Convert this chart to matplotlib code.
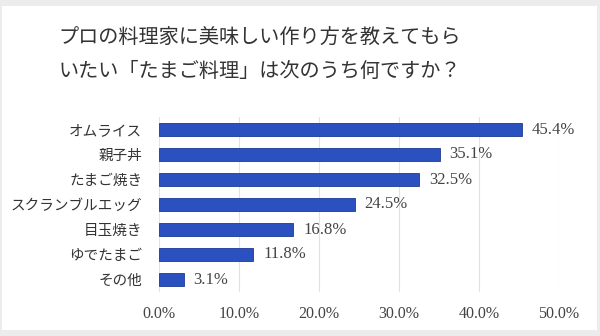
import matplotlib.pyplot as plt
from matplotlib.patches import Rectangle

categories = ['オムライス', '親子丼', 'たまご焼き', 'スクランブルエッグ', '目玉焼き', 'ゆでたまご', 'その他']
values = [45.4, 35.1, 32.5, 24.5, 16.8, 11.8, 3.1]
xticks = [0, 10, 20, 30, 40, 50]
title = 'プロの料理家に美味しい作り方を教えてもら\nいたい「たまご料理」は次のうち何ですか？'

jp = ['Noto Sans CJK JP', 'DejaVu Sans']
num = ['Liberation Serif', 'DejaVu Serif']

fig = plt.figure(figsize=(6, 3.36), dpi=100, facecolor='#ececec')
# white panel inside light gray frame
fig.patches.append(Rectangle((2/600, 6/336), 595/600, 324/336, transform=fig.transFigure,
                             facecolor='white', edgecolor='none', zorder=-1))

fig.text(260/600, 1 - 55/336, title, ha='center', va='center', fontsize=14.5,
         family=jp, color='#333333', linespacing=1.75)

ax = fig.add_axes([159/600, 44/336, 400/600, 175/336], zorder=2)
ax.set_facecolor('none')
y = list(range(len(categories)))
ax.barh(y, values, height=0.5, color='#2a51bf', edgecolor='#1c3a92', linewidth=0.6, zorder=3)
ax.set_ylim(len(categories) - 0.5, -0.5)
ax.set_xlim(0, 50)
ax.set_xticks(xticks)
ax.set_xticklabels([f'{t:.1f}%' for t in xticks], family=num, fontsize=11.5, color='#444444')
ax.set_yticks(y)
ax.set_yticklabels(categories, family=jp, fontsize=10.5, color='#333333')
ax.tick_params(axis='x', length=0, pad=10)
ax.tick_params(axis='y', length=0, pad=12)
ax.grid(axis='x', color='#e2e2e2', linewidth=0.8, zorder=0)
for s in ax.spines.values():
    s.set_visible(False)

for yi, v in zip(y, values):
    ax.annotate(f'{v}%', (v, yi), xytext=(7, 0), textcoords='offset points',
                va='center', ha='left', family=num, fontsize=12, color='#444444')

fig.savefig('out.png', dpi=100, facecolor=fig.get_facecolor())
